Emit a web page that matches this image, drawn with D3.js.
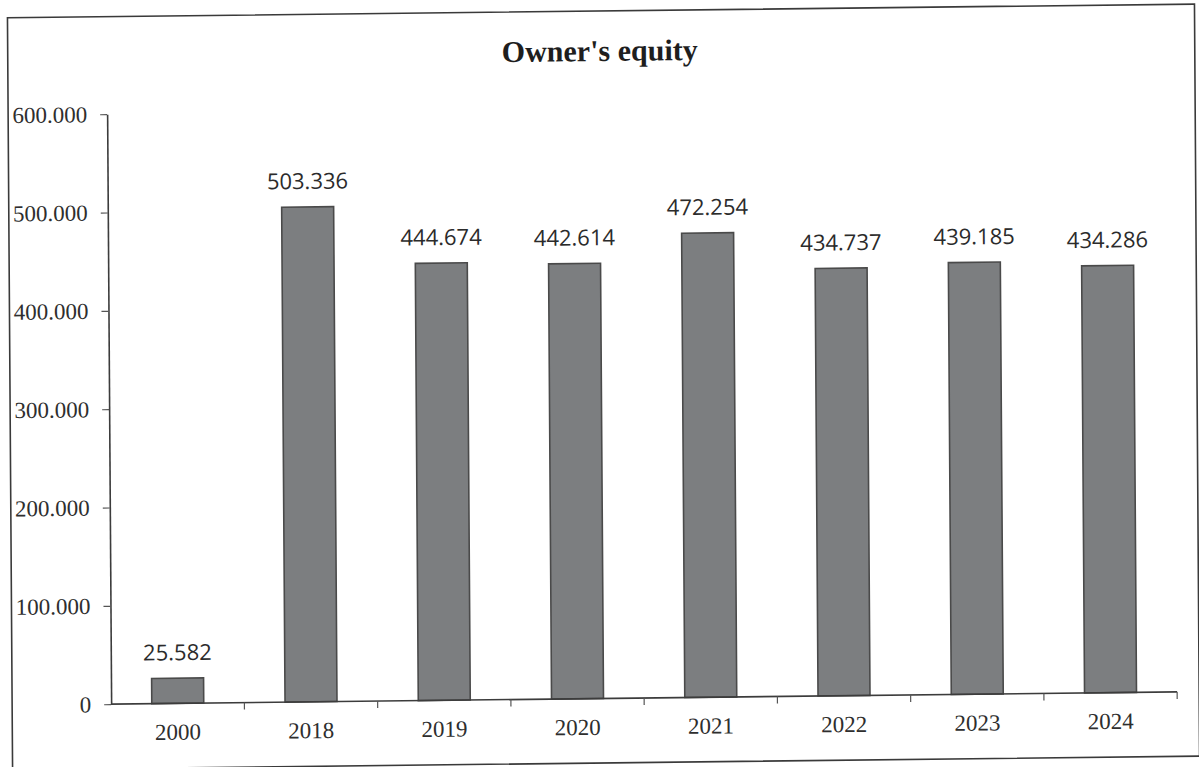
<!DOCTYPE html>
<html>
<head>
<meta charset="utf-8">
<script src="https://cdn.jsdelivr.net/npm/d3@7"></script>
<style>
  html, body { margin: 0; padding: 0; background: #ffffff; }
  svg { display: block; }
</style>
</head>
<body>
<svg id="chart" width="1199" height="767"></svg>
<script>
// Owner's equity by year
const years = ["2000", "2018", "2019", "2020", "2021", "2022", "2023", "2024"];
const equity = [25582, 503336, 444674, 442614, 472254, 434737, 439185, 434286];
const yTicks = [0, 100000, 200000, 300000, 400000, 500000, 600000];
const chartTitle = "Owner's equity";

const W = 1199, H = 767;
const plot = { left: 109, right: 1175, top: 108.5, bottom: 698.5 };

// number format with "." as thousands separator
const loc = d3.formatLocale({ decimal: ",", thousands: ".", grouping: [3], currency: ["", ""] });
const fmt = loc.format(",");

const svg = d3.select("#chart");

// slight skew of the whole sheet around its centre
const g = svg.append("g")
  .attr("transform", "translate(600,384) matrix(1,-0.0115,0.0068,1,0,0) translate(-600,-384)");

// sheet border
g.append("rect")
  .attr("x", 10).attr("y", 11)
  .attr("width", 1187).attr("height", 752)
  .attr("fill", "#ffffff")
  .attr("stroke", "#3a3a3a")
  .attr("stroke-width", 1.6);

const pInner = 0.61;
const x = d3.scaleBand()
  .domain(years)
  .range([plot.left, plot.right])
  .paddingInner(pInner)
  .paddingOuter(pInner / 2);

const y = d3.scaleLinear()
  .domain([0, 600000])
  .range([plot.bottom, plot.top]);

// title
g.append("text")
  .attr("x", 602).attr("y", 61)
  .attr("text-anchor", "middle")
  .attr("font-family", "'Liberation Serif', 'Times New Roman', serif")
  .attr("font-weight", "bold")
  .attr("font-size", 30)
  .attr("fill", "#1e1e1e")
  .text(chartTitle);

// bars
g.append("g").selectAll("rect")
  .data(years.map((yr, i) => ({ yr, v: equity[i] })))
  .join("rect")
  .attr("x", d => x(d.yr))
  .attr("y", d => y(d.v))
  .attr("width", x.bandwidth())
  .attr("height", d => y(0) - y(d.v))
  .attr("fill", "#7c7e80")
  .attr("stroke", "#4a4a4a")
  .attr("stroke-width", 1.6);

// value labels
g.append("g").selectAll("text")
  .data(years.map((yr, i) => ({ yr, v: equity[i] })))
  .join("text")
  .attr("x", d => x(d.yr) + x.bandwidth() / 2)
  .attr("y", d => y(d.v) - 18)
  .attr("text-anchor", "middle")
  .attr("font-family", "'Open Sans', 'Liberation Sans', sans-serif")
  .attr("font-size", 22)
  .attr("fill", "#2b2b2b")
  .text(d => fmt(d.v));

// y axis
const yAxis = g.append("g")
  .attr("transform", `translate(${plot.left},0)`)
  .call(d3.axisLeft(y).tickValues(yTicks).tickFormat(fmt).tickSize(7).tickSizeOuter(0).tickPadding(13));
yAxis.select(".domain").attr("stroke", "#3c3c3c").attr("stroke-width", 1.6);
yAxis.selectAll(".tick line").attr("stroke", "#555").attr("stroke-width", 1.2);
yAxis.selectAll(".tick text")
  .attr("font-family", "'Liberation Serif', 'Times New Roman', serif")
  .attr("font-size", 23)
  .attr("fill", "#2e2e2e");

// x axis: baseline, category labels
const xAxis = g.append("g")
  .attr("transform", `translate(0,${plot.bottom})`)
  .call(d3.axisBottom(x).tickSize(0).tickPadding(20));
xAxis.select(".domain").remove();
xAxis.selectAll(".tick text")
  .attr("font-family", "'Liberation Serif', 'Times New Roman', serif")
  .attr("font-size", 23)
  .attr("fill", "#2e2e2e");

g.append("line")
  .attr("x1", plot.left).attr("x2", plot.right)
  .attr("y1", plot.bottom).attr("y2", plot.bottom)
  .attr("stroke", "#3c3c3c").attr("stroke-width", 1.6);

// tick marks at category boundaries
const halfGap = x.step() * pInner / 2;
g.append("g").selectAll("line")
  .data(years)
  .join("line")
  .attr("x1", d => x(d) + x.bandwidth() + halfGap)
  .attr("x2", d => x(d) + x.bandwidth() + halfGap)
  .attr("y1", plot.bottom)
  .attr("y2", plot.bottom + 7)
  .attr("stroke", "#555").attr("stroke-width", 1.2);
</script>
</body>
</html>
